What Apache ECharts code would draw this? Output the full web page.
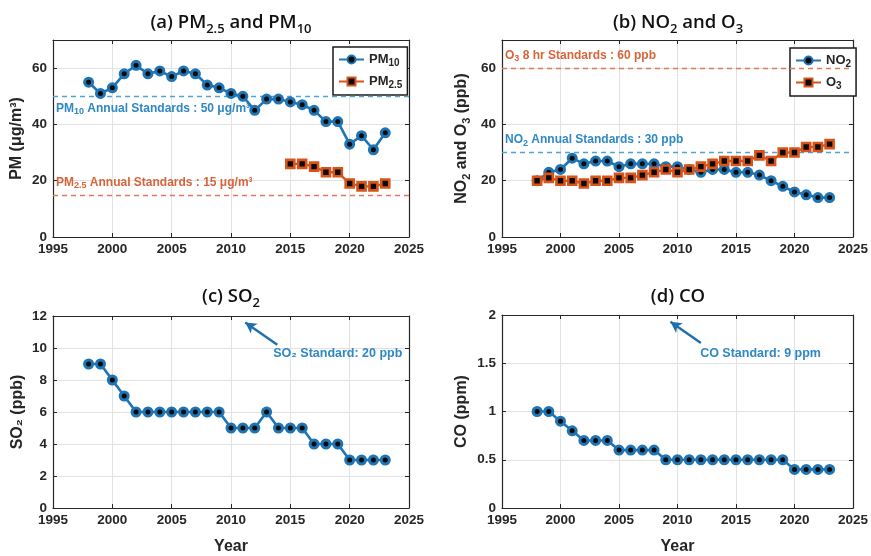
<!DOCTYPE html>
<html><head><meta charset="utf-8">
<script src="https://cdn.jsdelivr.net/npm/echarts@6/dist/echarts.min.js"></script>
<style>html,body{margin:0;padding:0;background:#fff}#c{width:871px;height:556px}</style>
</head><body><div id="c"></div>
<script>
// ---------- data ----------
const years = [1998,1999,2000,2001,2002,2003,2004,2005,2006,2007,2008,2009,2010,2011,2012,2013,2014,2015,2016,2017,2018,2019,2020,2021,2022,2023];
const pm10 = [55,51,53,58,61,58,59,57,59,58,54,53,51,50,45,49,49,48,47,45,41,41,33,36,31,37];
const pm25Years = [2015,2016,2017,2018,2019,2020,2021,2022,2023];
const pm25 = [26,26,25,23,23,19,18,18,19];
const no2 = [20,23,24,28,26,27,27,25,26,26,26,25,25,24,23,24,24,23,23,22,20,18,16,15,14,14];
const o3  = [20,21,20,20,19,20,20,21,21,22,23,24,23,24,25,26,27,27,27,29,27,30,30,32,32,33];
const so2 = [9,9,8,7,6,6,6,6,6,6,6,6,5,5,5,6,5,5,5,4,4,4,3,3,3,3];
const co  = [1,1,0.9,0.8,0.7,0.7,0.7,0.6,0.6,0.6,0.6,0.5,0.5,0.5,0.5,0.5,0.5,0.5,0.5,0.5,0.5,0.5,0.4,0.4,0.4,0.4];
const pm10Std = 50, pm25Std = 15, no2Std = 30, o3Std = 60, so2Std = 20, coStd = 9;
const xTicks = [1995, 2025, 5];
const pmTicks = [0, 70, 20];
const ppbTicks = [0, 70, 20];
const so2Ticks = [0, 12, 2];
const coTicks = [0, 2, 0.5];

// ---------- style ----------
const FONT = 'Liberation Sans';
const INK = '#262626';
const BLUE = '#1f74b4', ORANGE = '#d9541a';
const BLUE_TXT = '#2f88c5', ORANGE_TXT = '#d8643a';
const BLUE_DASH = '#4fa3d6', ORANGE_DASH = '#e07a55';

const grids = [
  {left:53, top:40, width:356, height:197},
  {left:502, top:40, width:356, height:197},
  {left:53, top:316, width:356, height:196},
  {left:502, top:315, width:353, height:197}
];

function subRich(size, sub, color, weight, family, lh) {
  return {
    t: {fontSize:size, fontWeight:weight, fontFamily:family, color:color, lineHeight:lh},
    s: {fontSize:sub, fontWeight:weight, fontFamily:family, color:color, lineHeight:Math.round(lh*0.55), verticalAlign:'bottom'}
  };
}

const xAxes = [], yAxes = [];
const yDefs = [
  {r:pmTicks, name:'{t|PM (μg/m³)}', gap:26},
  {r:ppbTicks, name:'{t|NO}{s|2}{t| and O}{s|3}{t| (ppb)}', gap:30},
  {r:so2Ticks, name:'{t|SO₂ (ppb)}', gap:25},
  {r:coTicks, name:'{t|CO (ppm)}', gap:30}
];
const tickLabel = {fontFamily:FONT, fontWeight:'bold', fontSize:13.5, color:INK};
const plain = v => String(v);
for (let g = 0; g < 4; g++) {
  const base = {gridIndex:g, type:'value', min:xTicks[0], max:xTicks[1], interval:xTicks[2]};
  xAxes.push(Object.assign({}, base, {
    position:'bottom',
    axisLine:{show:true, onZero:false, lineStyle:{color:INK, width:1.2}},
    axisTick:{inside:true, length:4, lineStyle:{color:INK}},
    axisLabel:Object.assign({margin:5, formatter:plain}, tickLabel),
    splitLine:{show:true, lineStyle:{color:'#e2e2e2', width:1}},
    name: g >= 2 ? 'Year' : '',
    nameLocation:'middle', nameGap:31,
    nameTextStyle:{fontFamily:FONT, fontWeight:'bold', fontSize:16, color:INK}
  }));
  xAxes.push(Object.assign({}, base, {
    position:'top',
    axisLine:{show:true, onZero:false, lineStyle:{color:INK, width:1.2}},
    axisTick:{inside:true, length:4, lineStyle:{color:INK}},
    axisLabel:{show:false}, splitLine:{show:false}
  }));
  const d = yDefs[g];
  const ybase = {gridIndex:g, type:'value', min:d.r[0], max:d.r[1], interval:d.r[2]};
  yAxes.push(Object.assign({}, ybase, {
    position:'left',
    axisLine:{show:true, onZero:false, lineStyle:{color:INK, width:1.2}},
    axisTick:{inside:true, length:4, lineStyle:{color:INK}},
    axisLabel:Object.assign({margin:6, formatter:plain, showMaxLabel: d.r[1] % d.r[2] === 0}, tickLabel),
    splitLine:{show:true, lineStyle:{color:'#e2e2e2', width:1}},
    name:d.name, nameLocation:'middle', nameGap:d.gap,
    nameTextStyle:{rich: subRich(16, 11, INK, 'bold', FONT, 20)}
  }));
  yAxes.push(Object.assign({}, ybase, {
    position:'right',
    axisLine:{show:true, onZero:false, lineStyle:{color:INK, width:1.2}},
    axisTick:{inside:true, length:4, lineStyle:{color:INK}},
    axisLabel:{show:false}, splitLine:{show:false}
  }));
}

const titleRich = subRich(18.5, 13, '#111', 600, 'Open Sans', 26);
titleRich.s.lineHeight = 17;
function title(text, cx, top) {
  return {text:text, left:cx, top:top, textAlign:'center', padding:0,
    textStyle:{rich:titleRich}};
}

function pairs(xs, ys) { return xs.map((x, i) => [x, ys[i]]); }

function circleSeries(name, g, xs, ys) {
  return {
    name:name, type:'line', xAxisIndex:2*g, yAxisIndex:2*g,
    data:pairs(xs, ys), symbol:'circle', symbolSize:8,
    lineStyle:{color:BLUE, width:2.6},
    itemStyle:{color:'#0b0b0b', borderColor:BLUE, borderWidth:3},
    animation:false, z:5
  };
}
function squareSeries(name, g, xs, ys) {
  return {
    name:name, type:'line', xAxisIndex:2*g, yAxisIndex:2*g,
    data:pairs(xs, ys), symbol:'rect', symbolSize:8,
    lineStyle:{color:ORANGE, width:2.4},
    itemStyle:{color:'#0b0b0b', borderColor:ORANGE, borderWidth:2.6},
    animation:false, z:5
  };
}
function stdLine(value, color, txtColor, text, pos) {
  return {
    silent:true, symbol:'none', animation:false,
    lineStyle:{type:[5,4], color:color, width:1.3},
    data:[{yAxis:value}],
    label:{show:true, position:pos, distance:[3, 5], formatter:text,
      rich: subRich(12, 9, txtColor, 'bold', FONT, 15)}
  };
}
function arrowNote(fromPt, toPt, textPt, text) {
  return {
    markLine:{silent:true, animation:false, symbol:['none','arrow'], symbolSize:[9,11],
      lineStyle:{type:'solid', color:'#1f6fae', width:2.4},
      label:{show:false},
      data:[[{coord:fromPt}, {coord:toPt}]]},
    markPoint:{silent:true, animation:false, symbol:'circle', symbolSize:1,
      itemStyle:{color:'rgba(0,0,0,0)'},
      label:{show:true, position:'inside', formatter:text,
        fontFamily:FONT, fontWeight:'bold', fontSize:12.5, color:BLUE_TXT},
      data:[{coord:textPt}]}
  };
}

const sPM10 = circleSeries('PM10', 0, years, pm10);
sPM10.markLine = stdLine(pm10Std, BLUE_DASH, BLUE_TXT,
  '{t|PM}{s|10}{t| Annual Standards : ' + pm10Std + ' μg/m³}', 'insideStartBottom');
const sPM25 = squareSeries('PM2.5', 0, pm25Years, pm25);
sPM25.markLine = stdLine(pm25Std, ORANGE_DASH, ORANGE_TXT,
  '{t|PM}{s|2.5}{t| Annual Standards : ' + pm25Std + ' μg/m³}', 'insideStartTop');
const sNO2 = circleSeries('NO2', 1, years, no2);
sNO2.markLine = stdLine(no2Std, BLUE_DASH, BLUE_TXT,
  '{t|NO}{s|2}{t| Annual Standards : ' + no2Std + ' ppb}', 'insideStartTop');
const sO3 = squareSeries('O3', 1, years, o3);
sO3.markLine = stdLine(o3Std, ORANGE_DASH, ORANGE_TXT,
  '{t|O}{s|3}{t| 8 hr Standards : ' + o3Std + ' ppb}', 'insideStartTop');
const sSO2 = Object.assign(circleSeries('SO2', 2, years, so2),
  arrowNote([2013.9, 10.2], [2011.2, 11.6], [2019.0, 9.65], 'SO₂ Standard: ' + so2Std + ' ppb'));
const sCO = Object.assign(circleSeries('CO', 3, years, co),
  arrowNote([2012.0, 1.71], [2009.4, 1.93], [2017.1, 1.6], 'CO Standard: ' + coStd + ' ppm'));

const legendRich = subRich(13, 10, INK, 'bold', FONT, 17);
function legend(names, fmt, left, top) {
  return {
    data:names, left:left, top:top, orient:'vertical',
    backgroundColor:'#fff', borderColor:'#1a1a1a', borderWidth:1.5, borderRadius:0,
    padding:[6,5,5,5], itemGap:7, itemWidth:25, itemHeight:10,
    formatter:fmt, textStyle:{rich:legendRich}
  };
}

const option = {
  animation:false,
  backgroundColor:'#fff',
  title:[
    title('{t|(a) PM}{s|2.5}{t| and PM}{s|10}', 231, 10),
    title('{t|(b) NO}{s|2}{t| and O}{s|3}', 678, 10),
    title('{t|(c) SO}{s|2}', 231, 284),
    title('{t|(d) CO}', 678, 284)
  ],
  legend:[
    legend(['PM10','PM2.5'], n => n === 'PM10' ? '{t|PM}{s|10}' : '{t|PM}{s|2.5}', 333, 47),
    legend(['NO2','O3'], n => n === 'NO2' ? '{t|NO}{s|2}' : '{t|O}{s|3}', 790, 48)
  ],
  grid:grids,
  xAxis:xAxes,
  yAxis:yAxes,
  series:[sPM10, sPM25, sNO2, sO3, sSO2, sCO]
};
const chart = echarts.init(document.getElementById('c'));
chart.setOption(option);
</script>
</body></html>
